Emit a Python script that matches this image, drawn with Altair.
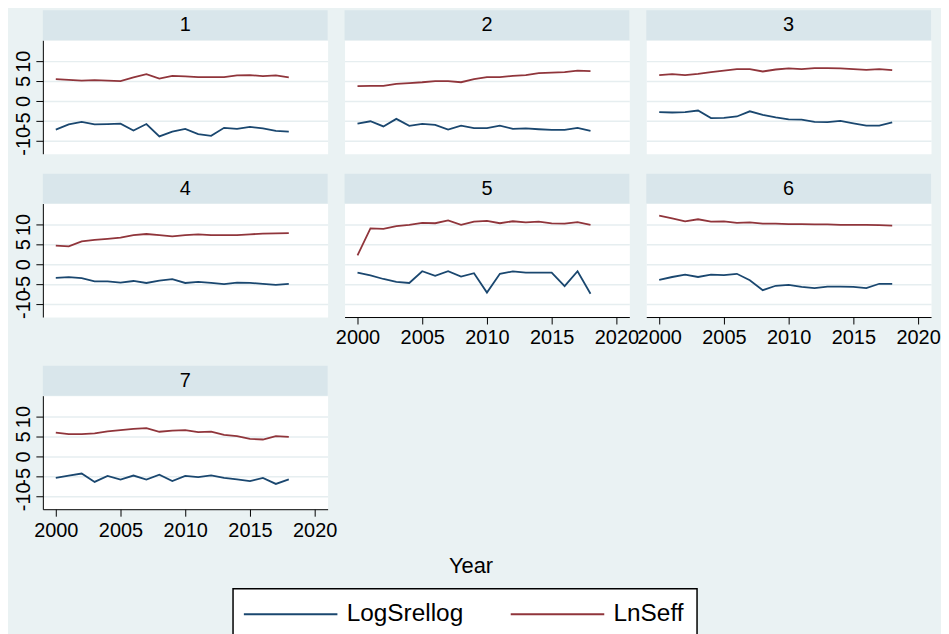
import altair as alt
import pandas as pd

# ---------------- data ----------------
years = list(range(2000, 2019))
panels = ["1", "2", "3", "4", "5", "6", "7"]
series_names = ["LogSrellog", "LnSeff"]
series_colors = ["#1A476F", "#90353B"]
x_ticks = [2000, 2005, 2010, 2015, 2020]
y_ticks = [-10, -5, 0, 5, 10]

log_1 = [-7.2, -5.9, -5.25, -5.9, -5.8, -5.7, -7.4, -5.8, -8.9, -7.7, -7.0, -8.3, -8.75, -6.75, -7.0, -6.5, -6.9, -7.5, -7.7]
seff_1 = [5.5, 5.3, 5.1, 5.25, 5.1, 5.0, 5.9, 6.75, 5.6, 6.3, 6.15, 6.0, 6.0, 6.0, 6.4, 6.5, 6.25, 6.4, 5.9]

log_2 = [-5.7, -5.1, -6.4, -4.5, -6.25, -5.75, -6.0, -7.2, -6.2, -6.8, -6.8, -6.2, -7.0, -6.9, -7.1, -7.25, -7.25, -6.75, -7.5]
seff_2 = [3.7, 3.8, 3.8, 4.3, 4.5, 4.7, 5.0, 5.0, 4.7, 5.5, 6.0, 6.0, 6.3, 6.5, 7.0, 7.1, 7.25, 7.6, 7.5]

log_3 = [-2.8, -2.9, -2.8, -2.4, -4.3, -4.25, -3.9, -2.6, -3.5, -4.1, -4.6, -4.7, -5.25, -5.3, -5.0, -5.6, -6.2, -6.2, -5.4]
seff_3 = [6.5, 6.75, 6.5, 6.8, 7.25, 7.6, 8.0, 8.0, 7.4, 7.9, 8.2, 8.0, 8.25, 8.25, 8.2, 8.0, 7.8, 8.0, 7.75]

log_4 = [-3.4, -3.25, -3.5, -4.3, -4.3, -4.6, -4.2, -4.7, -4.1, -3.75, -4.7, -4.4, -4.7, -5.0, -4.6, -4.7, -4.9, -5.2, -4.9]
seff_4 = [4.7, 4.5, 5.75, 6.1, 6.4, 6.7, 7.3, 7.6, 7.3, 7.0, 7.3, 7.5, 7.3, 7.3, 7.3, 7.5, 7.7, 7.75, 7.8]

log_5 = [-2.1, -2.8, -3.7, -4.4, -4.7, -1.75, -2.9, -1.75, -3.1, -2.25, -7.1, -2.4, -1.8, -2.1, -2.1, -2.1, -5.5, -1.75, -7.4]
seff_5 = [2.25, 9.0, 8.9, 9.6, 9.9, 10.4, 10.3, 11.0, 9.9, 10.7, 10.9, 10.3, 10.8, 10.5, 10.7, 10.25, 10.2, 10.6, 9.9]

log_6 = [-3.9, -3.2, -2.6, -3.2, -2.6, -2.75, -2.4, -4.0, -6.5, -5.4, -5.2, -5.7, -6.0, -5.6, -5.6, -5.7, -6.0, -4.9, -4.9]
seff_6 = [12.2, 11.5, 10.75, 11.3, 10.7, 10.75, 10.4, 10.5, 10.2, 10.2, 10.1, 10.1, 10.0, 10.0, 9.9, 9.9, 9.9, 9.8, 9.7]

log_7 = [-5.4, -4.8, -4.3, -6.4, -4.9, -5.8, -4.8, -5.8, -4.6, -6.2, -4.9, -5.2, -4.75, -5.4, -5.75, -6.2, -5.4, -6.9, -5.75]
seff_7 = [6.0, 5.6, 5.6, 5.8, 6.3, 6.6, 6.9, 7.1, 6.2, 6.5, 6.6, 6.1, 6.25, 5.4, 5.1, 4.4, 4.25, 5.1, 4.9]

log_all = [log_1, log_2, log_3, log_4, log_5, log_6, log_7]
seff_all = [seff_1, seff_2, seff_3, seff_4, seff_5, seff_6, seff_7]

rows = []
for p, lg, sf in zip(panels, log_all, seff_all):
    for yr, a, b in zip(years, lg, sf):
        rows.append({"panel": p, "year": yr, "series": "LogSrellog", "value": a})
        rows.append({"panel": p, "year": yr, "series": "LnSeff", "value": b})
df = pd.DataFrame(rows)

# ---------------- style ----------------
FONT = "Arial"
BG = "#EAF2F3"
STRIP = "#D9E6EB"
GRID = "#E6EEF0"
W, H, SH = 286, 114, 30

# legend symbol: a long thin stroke (custom path, 5x the unit width)
legend = alt.Legend(
    title=None, orient="none", legendX=191, legendY=551, direction="horizontal",
    fillColor="white", strokeColor="black", padding=13,
    symbolType="M-5,0H5", symbolSize=353, symbolStrokeWidth=2,
    symbolOffset=32.6, labelOffset=44,
    labelFont=FONT, labelFontSize=24.5, labelColor="black",
    columnPadding=42,
)


def panel(pid, show_x, show_y, with_title=False):
    d = df[df["panel"] == pid]
    if show_x:
        x_axis = alt.Axis(values=x_ticks, format="d", title=None, labelFont=FONT,
                          labelFontSize=20, labelColor="black", tickColor="black",
                          tickSize=7, domainColor="black", labelPadding=4, grid=False,
                          labelOverlap=False, labelFlush=False)
    else:
        x_axis = None
    if show_y:
        y_axis = alt.Axis(values=y_ticks, title=None, labelFont=FONT, labelFontSize=20,
                          labelExpr="(datum.value < 0 ? '-' : '') + abs(datum.value)",
                          labelColor="black", labelAngle=270, labelAlign="center",
                          labelBaseline="bottom", labelPadding=2, labelOverlap=False,
                          tickColor="black", tickSize=7, domainColor="black",
                          grid=True, gridColor=GRID, gridWidth=1.5,
                          minExtent=34, maxExtent=34)
    else:
        y_axis = alt.Axis(values=y_ticks, title=None, labels=False, ticks=False,
                          domain=False, grid=True, gridColor=GRID, gridWidth=1.5,
                          minExtent=0, maxExtent=0)

    lab = pd.DataFrame({"label": [pid]})
    strip_bg = alt.Chart(lab).mark_rect(color=STRIP).encode(
        x=alt.value(0), x2=alt.value(W), y=alt.value(-SH), y2=alt.value(0))
    strip_tx = alt.Chart(lab).mark_text(font=FONT, fontSize=20, color="black").encode(
        text="label:N", x=alt.value(W / 2), y=alt.value(-SH / 2))
    lines = alt.Chart(d).mark_line(strokeWidth=1.8).encode(
        x=alt.X("year:Q", scale=alt.Scale(domain=[1999, 2021], nice=False, zero=False), axis=x_axis),
        y=alt.Y("value:Q", scale=alt.Scale(domain=[-13.25, 15.25], nice=False, zero=False), axis=y_axis),
        color=alt.Color("series:N", scale=alt.Scale(domain=series_names, range=series_colors), legend=legend),
    )
    layers = [strip_bg, strip_tx, lines]
    if with_title:
        tt = pd.DataFrame({"t": ["Year"]})
        layers.append(alt.Chart(tt).mark_text(font=FONT, fontSize=22, color="black").encode(
            text="t:N", x=alt.value(430), y=alt.value(171)))
    return alt.layer(*layers).properties(width=W, height=H)


row1 = alt.hconcat(panel("1", False, True), panel("2", False, False), panel("3", False, False),
                   spacing=17, bounds="flush")
row2 = alt.hconcat(panel("4", False, True), panel("5", True, False), panel("6", True, False),
                   spacing=17, bounds="flush")
row3 = panel("7", True, True, with_title=True)

top = alt.vconcat(row1, row2, spacing=17)
chart = alt.vconcat(top, row3, spacing=16).properties(
    padding=0, background=BG
).configure_view(fill="white", stroke="transparent").configure_legend(strokeWidth=1.5)

chart.save("out.html", embed_options={"renderer": "svg", "actions": False})
